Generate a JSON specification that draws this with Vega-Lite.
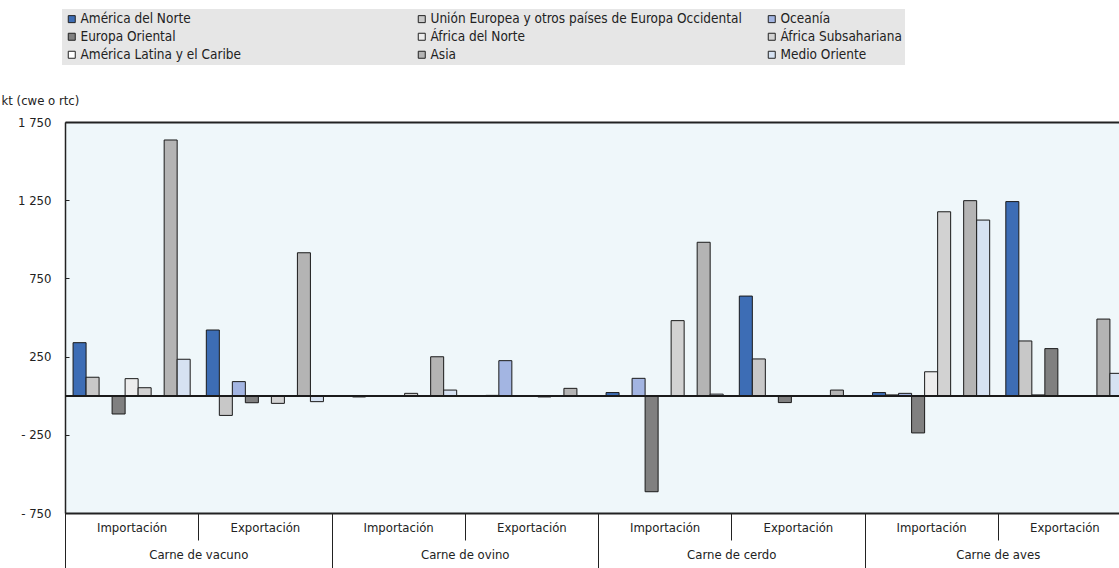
{
  "$schema": "https://vega.github.io/schema/vega-lite/v6.json",
  "autosize": {"type": "none"},
  "padding": {"left": 65, "top": 122, "right": 0, "bottom": 55},
  "width": 1054,
  "height": 391,
  "background": "#FFFFFF",
  "config": {
    "font": "Liberation Sans Narrow, Arial Narrow, DejaVu Sans Condensed, sans-serif",
    "view": {"fill": "#EFF7FA", "stroke": null},
    "axis": {
      "labelFont": "Liberation Sans Narrow, Arial Narrow, DejaVu Sans Condensed, sans-serif",
      "titleFont": "Liberation Sans Narrow, Arial Narrow, DejaVu Sans Condensed, sans-serif",
      "labelColor": "#222222",
      "titleColor": "#222222",
      "labelFontSize": 13,
      "titleFontSize": 13
    },
    "legend": {
      "labelFont": "Liberation Sans Narrow, Arial Narrow, DejaVu Sans Condensed, sans-serif",
      "labelFontSize": 13.5,
      "labelColor": "#222222"
    }
  },
  "data": {
    "values": [
      {"carne": "Carne de vacuno", "flujo": "Importación", "region": "América del Norte", "kt": 339},
      {"carne": "Carne de vacuno", "flujo": "Importación", "region": "Unión Europea y otros países de Europa Occidental", "kt": 118},
      {"carne": "Carne de vacuno", "flujo": "Importación", "region": "Oceanía", "kt": 0},
      {"carne": "Carne de vacuno", "flujo": "Importación", "region": "Europa Oriental", "kt": -117},
      {"carne": "Carne de vacuno", "flujo": "Importación", "region": "África del Norte", "kt": 109},
      {"carne": "Carne de vacuno", "flujo": "Importación", "region": "África Subsahariana", "kt": 51},
      {"carne": "Carne de vacuno", "flujo": "Importación", "region": "América Latina y el Caribe", "kt": 0},
      {"carne": "Carne de vacuno", "flujo": "Importación", "region": "Asia", "kt": 1635},
      {"carne": "Carne de vacuno", "flujo": "Importación", "region": "Medio Oriente", "kt": 233},

      {"carne": "Carne de vacuno", "flujo": "Exportación", "region": "América del Norte", "kt": 420},
      {"carne": "Carne de vacuno", "flujo": "Exportación", "region": "Unión Europea y otros países de Europa Occidental", "kt": -126},
      {"carne": "Carne de vacuno", "flujo": "Exportación", "region": "Oceanía", "kt": 90},
      {"carne": "Carne de vacuno", "flujo": "Exportación", "region": "Europa Oriental", "kt": -45},
      {"carne": "Carne de vacuno", "flujo": "Exportación", "region": "África del Norte", "kt": 0},
      {"carne": "Carne de vacuno", "flujo": "Exportación", "region": "África Subsahariana", "kt": -49},
      {"carne": "Carne de vacuno", "flujo": "Exportación", "region": "América Latina y el Caribe", "kt": 0},
      {"carne": "Carne de vacuno", "flujo": "Exportación", "region": "Asia", "kt": 914},
      {"carne": "Carne de vacuno", "flujo": "Exportación", "region": "Medio Oriente", "kt": -38},

      {"carne": "Carne de ovino", "flujo": "Importación", "region": "América del Norte", "kt": -3},
      {"carne": "Carne de ovino", "flujo": "Importación", "region": "Unión Europea y otros países de Europa Occidental", "kt": -8},
      {"carne": "Carne de ovino", "flujo": "Importación", "region": "Oceanía", "kt": 0},
      {"carne": "Carne de ovino", "flujo": "Importación", "region": "Europa Oriental", "kt": -2},
      {"carne": "Carne de ovino", "flujo": "Importación", "region": "África del Norte", "kt": 0},
      {"carne": "Carne de ovino", "flujo": "Importación", "region": "África Subsahariana", "kt": 15},
      {"carne": "Carne de ovino", "flujo": "Importación", "region": "América Latina y el Caribe", "kt": 0},
      {"carne": "Carne de ovino", "flujo": "Importación", "region": "Asia", "kt": 249},
      {"carne": "Carne de ovino", "flujo": "Importación", "region": "Medio Oriente", "kt": 36},

      {"carne": "Carne de ovino", "flujo": "Exportación", "region": "América del Norte", "kt": 0},
      {"carne": "Carne de ovino", "flujo": "Exportación", "region": "Unión Europea y otros países de Europa Occidental", "kt": 2},
      {"carne": "Carne de ovino", "flujo": "Exportación", "region": "Oceanía", "kt": 224},
      {"carne": "Carne de ovino", "flujo": "Exportación", "region": "Europa Oriental", "kt": 0},
      {"carne": "Carne de ovino", "flujo": "Exportación", "region": "África del Norte", "kt": 0},
      {"carne": "Carne de ovino", "flujo": "Exportación", "region": "África Subsahariana", "kt": -8},
      {"carne": "Carne de ovino", "flujo": "Exportación", "region": "América Latina y el Caribe", "kt": 0},
      {"carne": "Carne de ovino", "flujo": "Exportación", "region": "Asia", "kt": 47},
      {"carne": "Carne de ovino", "flujo": "Exportación", "region": "Medio Oriente", "kt": 0},

      {"carne": "Carne de cerdo", "flujo": "Importación", "region": "América del Norte", "kt": 20},
      {"carne": "Carne de cerdo", "flujo": "Importación", "region": "Unión Europea y otros países de Europa Occidental", "kt": 0},
      {"carne": "Carne de cerdo", "flujo": "Importación", "region": "Oceanía", "kt": 111},
      {"carne": "Carne de cerdo", "flujo": "Importación", "region": "Europa Oriental", "kt": -614},
      {"carne": "Carne de cerdo", "flujo": "Importación", "region": "África del Norte", "kt": 0},
      {"carne": "Carne de cerdo", "flujo": "Importación", "region": "África Subsahariana", "kt": 480},
      {"carne": "Carne de cerdo", "flujo": "Importación", "region": "América Latina y el Caribe", "kt": 0},
      {"carne": "Carne de cerdo", "flujo": "Importación", "region": "Asia", "kt": 981},
      {"carne": "Carne de cerdo", "flujo": "Importación", "region": "Medio Oriente", "kt": 10},

      {"carne": "Carne de cerdo", "flujo": "Exportación", "region": "América del Norte", "kt": 637},
      {"carne": "Carne de cerdo", "flujo": "Exportación", "region": "Unión Europea y otros países de Europa Occidental", "kt": 235},
      {"carne": "Carne de cerdo", "flujo": "Exportación", "region": "Oceanía", "kt": 0},
      {"carne": "Carne de cerdo", "flujo": "Exportación", "region": "Europa Oriental", "kt": -44},
      {"carne": "Carne de cerdo", "flujo": "Exportación", "region": "África del Norte", "kt": -3},
      {"carne": "Carne de cerdo", "flujo": "Exportación", "region": "África Subsahariana", "kt": 0},
      {"carne": "Carne de cerdo", "flujo": "Exportación", "region": "América Latina y el Caribe", "kt": 0},
      {"carne": "Carne de cerdo", "flujo": "Exportación", "region": "Asia", "kt": 36},
      {"carne": "Carne de cerdo", "flujo": "Exportación", "region": "Medio Oriente", "kt": 0},

      {"carne": "Carne de aves", "flujo": "Importación", "region": "América del Norte", "kt": 20},
      {"carne": "Carne de aves", "flujo": "Importación", "region": "Unión Europea y otros países de Europa Occidental", "kt": 5},
      {"carne": "Carne de aves", "flujo": "Importación", "region": "Oceanía", "kt": 15},
      {"carne": "Carne de aves", "flujo": "Importación", "region": "Europa Oriental", "kt": -238},
      {"carne": "Carne de aves", "flujo": "Importación", "region": "África del Norte", "kt": 153},
      {"carne": "Carne de aves", "flujo": "Importación", "region": "África Subsahariana", "kt": 1176},
      {"carne": "Carne de aves", "flujo": "Importación", "region": "América Latina y el Caribe", "kt": 0},
      {"carne": "Carne de aves", "flujo": "Importación", "region": "Asia", "kt": 1247},
      {"carne": "Carne de aves", "flujo": "Importación", "region": "Medio Oriente", "kt": 1123},

      {"carne": "Carne de aves", "flujo": "Exportación", "region": "América del Norte", "kt": 1241},
      {"carne": "Carne de aves", "flujo": "Exportación", "region": "Unión Europea y otros países de Europa Occidental", "kt": 350},
      {"carne": "Carne de aves", "flujo": "Exportación", "region": "Oceanía", "kt": 5},
      {"carne": "Carne de aves", "flujo": "Exportación", "region": "Europa Oriental", "kt": 301},
      {"carne": "Carne de aves", "flujo": "Exportación", "region": "África del Norte", "kt": -4},
      {"carne": "Carne de aves", "flujo": "Exportación", "region": "África Subsahariana", "kt": -4},
      {"carne": "Carne de aves", "flujo": "Exportación", "region": "América Latina y el Caribe", "kt": 0},
      {"carne": "Carne de aves", "flujo": "Exportación", "region": "Asia", "kt": 490},
      {"carne": "Carne de aves", "flujo": "Exportación", "region": "Medio Oriente", "kt": 143}
    ]
  },
  "transform": [
    {"calculate": "datum.carne + '|' + datum.flujo", "as": "grupo"}
  ],
  "layer": [
    {
      "mark": {"type": "bar", "stroke": "#1A1A1A", "strokeWidth": 1},
      "encoding": {
        "x": {
          "field": "grupo",
          "type": "nominal",
          "sort": null,
          "scale": {"paddingInner": 0, "paddingOuter": 0, "range": [0, 1066]},
          "axis": {
            "title": null,
            "orient": "bottom",
            "labelAngle": 0,
            "labelExpr": "split(datum.label, '|')[1]",
            "domain": true,
            "domainColor": "#222222",
            "domainWidth": 2,
            "tickBand": "extent",
            "tickColor": "#222222",
            "tickWidth": 1,
            "tickSize": 27,
            "labelPadding": -19,
            "labelBaseline": "top"
          }
        },
        "xOffset": {
          "field": "region",
          "type": "nominal",
          "sort": null,
          "scale": {
            "domain": ["América del Norte", "Unión Europea y otros países de Europa Occidental", "Oceanía", "Europa Oriental", "África del Norte", "África Subsahariana", "América Latina y el Caribe", "Asia", "Medio Oriente"],
            "paddingInner": 0,
            "paddingOuter": 0.62
          }
        },
        "y": {
          "field": "kt",
          "type": "quantitative",
          "scale": {"domain": [-750, 1750], "nice": false},
          "axis": {
            "title": "kt (cwe o rtc)",
            "titleAngle": 0,
            "titleAlign": "left",
            "titleBaseline": "middle",
            "titleFontWeight": "normal",
            "titleX": -64,
            "titleY": -22,
            "values": [-750, -250, 250, 750, 1250, 1750],
            "labelExpr": "datum.value < 0 ? '- ' + replace(format(-datum.value, ','), ',', ' ') : replace(format(datum.value, ','), ',', ' ')",
            "domainColor": "#222222",
            "domainWidth": 1.5,
            "tickColor": "#222222",
            "tickSize": -4,
            "labelPadding": 18,
            "grid": true,
            "gridColor": "#222222",
            "gridWidth": 2,
            "gridOpacity": {"condition": {"test": "datum.value == 1750", "value": 1}, "value": 0}
          }
        },
        "color": {
          "field": "region",
          "type": "nominal",
          "scale": {
            "domain": ["América del Norte", "Unión Europea y otros países de Europa Occidental", "Oceanía", "Europa Oriental", "África del Norte", "África Subsahariana", "América Latina y el Caribe", "Asia", "Medio Oriente"],
            "range": ["#3D6DB5", "#C8C8C8", "#A3B5E2", "#808080", "#EDEDED", "#D2D2D2", "#FFFFFF", "#B4B4B4", "#D6E2F2"]
          },
          "legend": {
            "title": null,
            "orient": "none",
            "direction": "horizontal",
            "legendX": -3,
            "legendY": -113,
            "columns": 3,
            "gridAlign": "all",
            "columnPadding": 23,
            "rowPadding": 3,
            "padding": 3,
            "fillColor": "#E6E6E6",
            "symbolType": "square",
            "symbolSize": 49,
            "symbolStrokeColor": "#222222",
            "symbolStrokeWidth": 1,
            "labelOffset": 2,
            "labelLimit": 0
          }
        }
      }
    },
    {
      "mark": {"type": "rule", "color": "#1A1A1A", "strokeWidth": 1.5},
      "encoding": {"y": {"datum": 0, "type": "quantitative"}}
    },
    {
      "mark": {"type": "bar", "opacity": 0},
      "encoding": {
        "x": {
          "field": "carne",
          "type": "nominal",
          "sort": null,
          "scale": {"paddingInner": 0, "paddingOuter": 0, "range": [0, 1066]},
          "axis": {
            "title": null,
            "orient": "bottom",
            "labelAngle": 0,
            "domain": false,
            "tickBand": "extent",
            "tickColor": "#222222",
            "tickWidth": 1,
            "tickSize": 56,
            "labelPadding": -21,
            "labelBaseline": "top"
          }
        }
      }
    }
  ],
  "resolve": {"scale": {"x": "independent"}, "axis": {"x": "independent"}}
}
